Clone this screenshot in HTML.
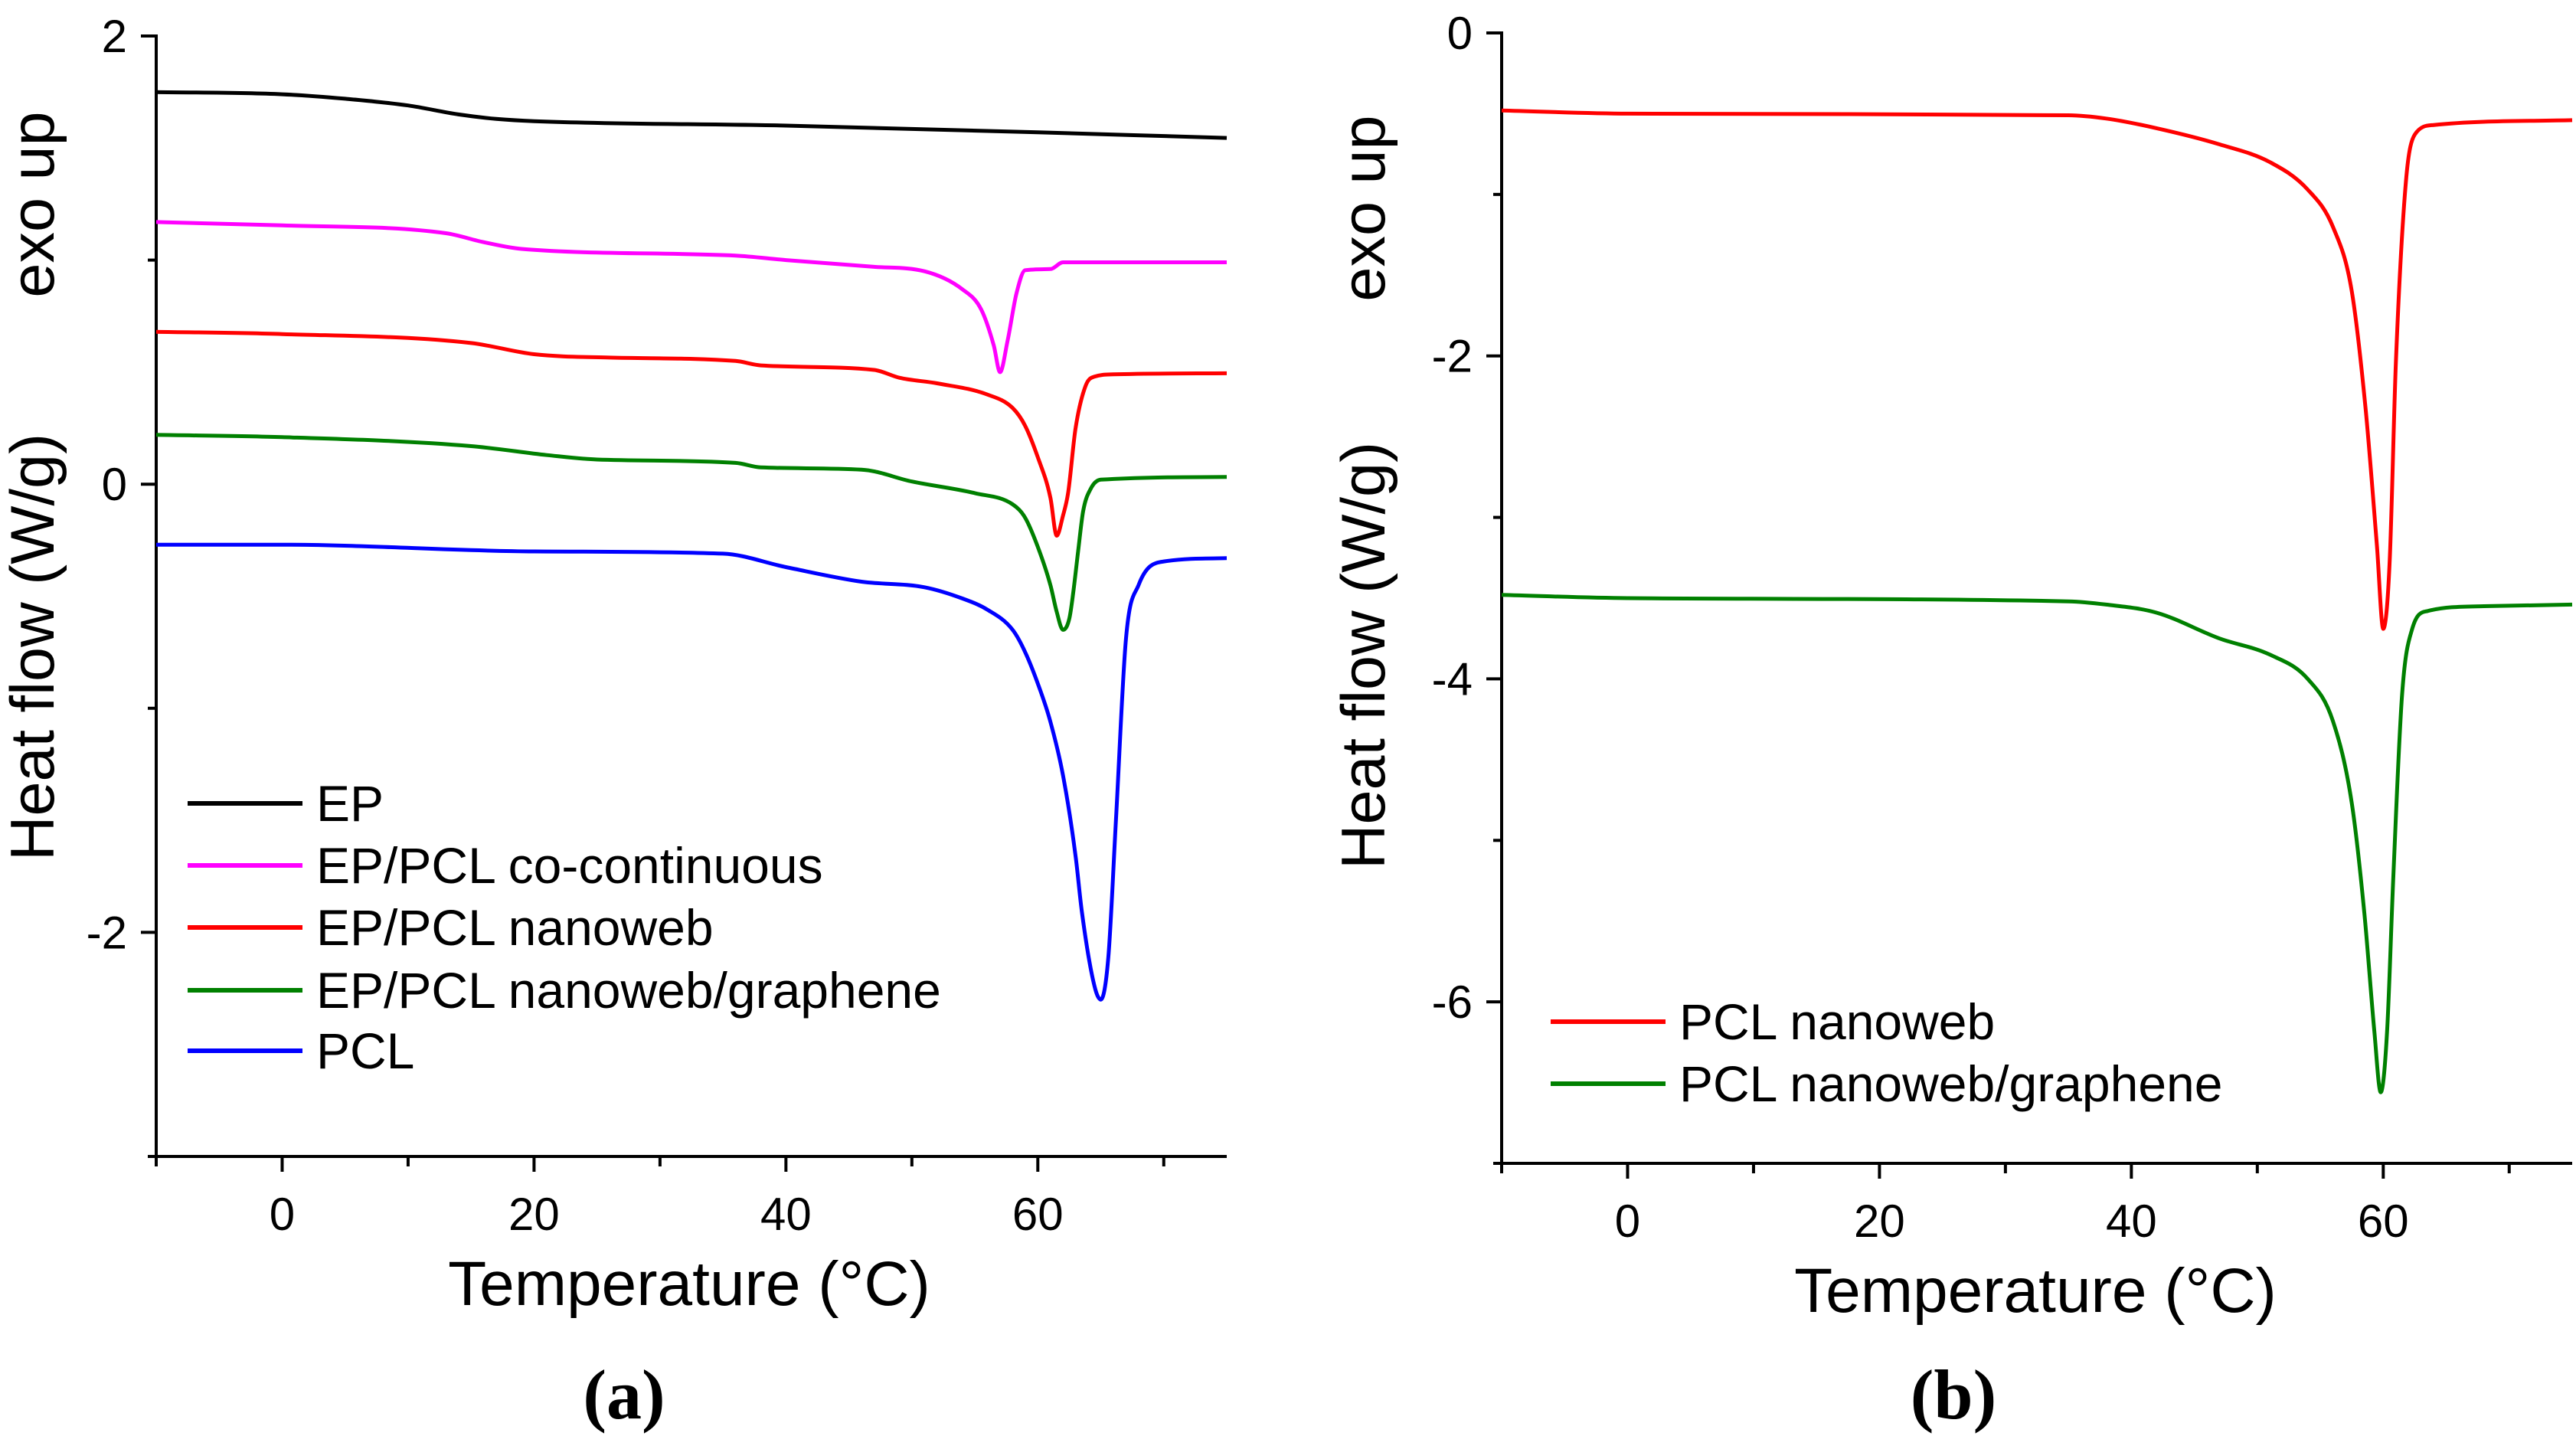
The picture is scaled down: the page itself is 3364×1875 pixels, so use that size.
<!DOCTYPE html>
<html><head><meta charset="utf-8"><style>
html,body{margin:0;padding:0;background:#fff;}
svg{display:block;font-family:"Liberation Sans",Arial,sans-serif;}
</style></head><body>
<svg id="chart" width="3364" height="1875" viewBox="0 0 3364 1875" xmlns="http://www.w3.org/2000/svg">
<g id="pa"></g>
<g id="pb"></g>
</svg>
<script>
// Panel (a) data
const aSeriesNames = ["EP","EP/PCL co-continuous","EP/PCL nanoweb","EP/PCL nanoweb/graphene","PCL"];
const aColors = ["#000000","#ff00ff","#ff0000","#008000","#0000ff"];
const aEP_T = [-10,0,5,10,14,17,20,40,60,75];
const aEP_H = [1.75,1.74,1.72,1.69,1.65,1.63,1.62,1.60,1.57,1.545];
const aCo_T = [-10,0,13,16,19,36,40,47,51,54,55.5,56.5,57,57.6,58.3,59,61,62,75];
const aCo_H = [1.17,1.155,1.12,1.08,1.05,1.02,1.0,0.97,0.95,0.87,0.78,0.62,0.50,0.64,0.85,0.955,0.96,0.99,0.99];
const aNw_T = [-10,0,15,20,26,36,38,47,49,52,56,58,59,60,61,61.5,62,62.4,63,63.8,64.5,66,75];
const aNw_H = [0.68,0.67,0.63,0.58,0.565,0.55,0.53,0.51,0.475,0.45,0.40,0.34,0.26,0.12,-0.06,-0.23,-0.14,-0.04,0.25,0.44,0.48,0.49,0.495];
const aGr_T = [-10,0,15,21,25,36,38,46,50,55,58,59,60,61,61.5,62,62.5,62.8,63.2,63.6,64.2,65,75];
const aGr_H = [0.22,0.21,0.17,0.13,0.11,0.095,0.075,0.065,0.012,-0.04,-0.09,-0.15,-0.28,-0.45,-0.57,-0.65,-0.60,-0.49,-0.30,-0.12,-0.02,0.02,0.032];
const aPCL_T = [-10,0,20,35,40,46,51,54,56,58,59,60,61,62,63,63.5,64.5,65,65.6,66.2,67,68,70,75];
const aPCL_H = [-0.27,-0.27,-0.30,-0.31,-0.37,-0.435,-0.46,-0.51,-0.56,-0.65,-0.75,-0.89,-1.06,-1.30,-1.66,-1.91,-2.24,-2.30,-2.11,-1.50,-0.69,-0.45,-0.345,-0.33];
const aYTicks = [2,0,-2];
const aXTicks = [0,20,40,60];
// Panel (b) data
const bSeriesNames = ["PCL nanoweb","PCL nanoweb/graphene"];
const bColors = ["#ff0000","#008000"];
const bNw_T = [-10,0,35,38,42,47,51,54,56,57.5,58.6,59.5,60,60.5,61,61.8,62.5,64,75];
const bNw_H = [-0.48,-0.50,-0.51,-0.53,-0.59,-0.69,-0.80,-0.97,-1.20,-1.60,-2.33,-3.18,-3.69,-3.29,-2.05,-0.92,-0.63,-0.57,-0.54];
const bGr_T = [-10,0,35,38,42,47,51,54,56,57.5,58.5,59.3,59.8,60.3,60.8,61.5,62.3,63.5,68,75];
const bGr_H = [-3.48,-3.50,-3.52,-3.54,-3.59,-3.75,-3.85,-4.0,-4.26,-4.77,-5.45,-6.19,-6.56,-6.19,-5.22,-4.09,-3.69,-3.58,-3.55,-3.54];
const bYTicks = [0,-2,-4,-6];
const bXTicks = [0,20,40,60];

const NS="http://www.w3.org/2000/svg";
function mk(parent,tag,attrs,text){const e=document.createElementNS(NS,tag);for(const k in attrs)e.setAttribute(k,attrs[k]);if(text!==undefined)e.textContent=text;parent.appendChild(e);return e;}

// monotone cubic path through pixel points
function monoPath(px,py){
  const n=px.length, d=[], m=new Array(n);
  for(let i=0;i<n-1;i++) d.push((py[i+1]-py[i])/(px[i+1]-px[i]));
  m[0]=d[0]; m[n-1]=d[n-2];
  for(let i=1;i<n-1;i++){ m[i]=(d[i-1]*d[i]<=0)?0:(d[i-1]+d[i])/2; }
  for(let i=0;i<n-1;i++){
    if(d[i]===0){m[i]=0;m[i+1]=0;continue;}
    const a=m[i]/d[i], b=m[i+1]/d[i], s=a*a+b*b;
    if(s>9){const t=3/Math.sqrt(s); m[i]=t*a*d[i]; m[i+1]=t*b*d[i];}
  }
  let p='M'+px[0].toFixed(1)+','+py[0].toFixed(1);
  for(let i=0;i<n-1;i++){
    const h=(px[i+1]-px[i])/3;
    p+='C'+(px[i]+h).toFixed(1)+','+(py[i]+m[i]*h).toFixed(1)+' '+(px[i+1]-h).toFixed(1)+','+(py[i+1]-m[i+1]*h).toFixed(1)+' '+px[i+1].toFixed(1)+','+py[i+1].toFixed(1);
  }
  return p;
}

function drawPanel(g,cfg){
  const xs=v=>cfg.x0+(v-cfg.xmin)/(cfg.xmax-cfg.xmin)*(cfg.x1-cfg.x0);
  const ys=v=>cfg.y0+(cfg.ymax-v)/(cfg.ymax-cfg.ymin)*(cfg.y1-cfg.y0);
  const ax=mk(g,'path',{d:`M${cfg.x0},${cfg.y0-2}L${cfg.x0},${cfg.y1}L${cfg.x1},${cfg.y1}`,fill:'none',stroke:'#000','stroke-width':4});
   
  for(let v=cfg.ymin; v<=cfg.ymax+1e-9; v+=cfg.yminor){
    const major=cfg.yticks.some(t=>Math.abs(t-v)<1e-9);
    const t=mk(g,'line',{x1:cfg.x0-(major?20:11),x2:cfg.x0,y1:ys(v),y2:ys(v),stroke:'#000','stroke-width':4});
     
  }
  cfg.yticks.forEach(v=>{
    const l=mk(g,'text',{x:cfg.x0-38,y:ys(v)+21,'text-anchor':'end','font-size':60},v<0?'-'+Math.abs(v):String(v));
     
  });
  for(let v=cfg.xmin; v<=cfg.xmax+1e-9; v+=10){
    const major=cfg.xticks.includes(v);
    const t=mk(g,'line',{x1:xs(v),x2:xs(v),y1:cfg.y1,y2:cfg.y1+(major?20:13),stroke:'#000','stroke-width':4});
     
  }
  cfg.xticks.forEach(v=>{
    const l=mk(g,'text',{x:xs(v),y:cfg.y1+96,'text-anchor':'middle','font-size':60},String(v));
     
  });
  cfg.series.forEach((s,i)=>{
    const d=monoPath(s.T.map(xs),s.H.map(ys));
    const p=mk(g,'path',{d:d,fill:'none',stroke:s.color,'stroke-width':5,'stroke-linejoin':'round'});
     
    const ly=cfg.legY[i];
    const ll=mk(g,'line',{x1:cfg.legX,x2:cfg.legX+150,y1:ly,y2:ly,stroke:s.color,'stroke-width':6});
     
    const lt=mk(g,'text',{x:cfg.legX+168,y:ly+23,'font-size':66},s.name);
     
  });
  const t1=mk(g,'text',{x:cfg.titleX,y:cfg.y1+194,'text-anchor':'middle','font-size':82},'Temperature (°C)');
   
  const t2=mk(g,'text',{transform:`translate(${cfg.ylabX},${cfg.hfY}) rotate(-90)`,'text-anchor':'middle','font-size':81},'Heat flow (W/g)');
   
  const t3=mk(g,'text',{transform:`translate(${cfg.ylabX},${cfg.exoY}) rotate(-90)`,'text-anchor':'middle','font-size':81},'exo up');
   
  const t4=mk(g,'text',{x:cfg.capX,y:1852,'text-anchor':'middle','font-size':92,'font-weight':'bold','font-family':'Liberation Serif, serif'},cfg.cap);
   
}

drawPanel(document.getElementById('pa'),{
  x0:204,x1:1602,y0:47,y1:1510,xmin:-10,xmax:75,ymin:-3,ymax:2,yminor:1,
  yticks:aYTicks,xticks:aXTicks,
  series:[{T:aEP_T,H:aEP_H,color:aColors[0],name:aSeriesNames[0]},
          {T:aCo_T,H:aCo_H,color:aColors[1],name:aSeriesNames[1]},
          {T:aNw_T,H:aNw_H,color:aColors[2],name:aSeriesNames[2]},
          {T:aGr_T,H:aGr_H,color:aColors[3],name:aSeriesNames[3]},
          {T:aPCL_T,H:aPCL_H,color:aColors[4],name:aSeriesNames[4]}],
  legX:245,legY:[1049,1130,1211,1293,1372],
  titleX:900,ylabX:70,hfY:845,exoY:267,capX:815,cap:'(a)'
});
drawPanel(document.getElementById('pb'),{
  x0:1961,x1:3359,y0:43,y1:1519,xmin:-10,xmax:75,ymin:-7,ymax:0,yminor:1,
  yticks:bYTicks,xticks:bXTicks,
  series:[{T:bNw_T,H:bNw_H,color:bColors[0],name:bSeriesNames[0]},
          {T:bGr_T,H:bGr_H,color:bColors[1],name:bSeriesNames[1]}],
  legX:2025,legY:[1334,1415],
  titleX:2658,ylabX:1808,hfY:856,exoY:272,capX:2551,cap:'(b)'
});
</script>
</body></html>
